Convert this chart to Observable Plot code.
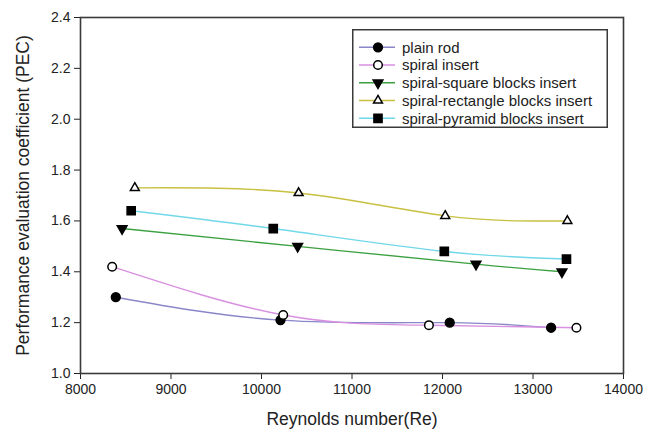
<!DOCTYPE html>
<html>
<head>
<meta charset="utf-8">
<script src="https://cdn.jsdelivr.net/npm/d3@7"></script>
<script src="https://cdn.jsdelivr.net/npm/@observablehq/plot@0.6"></script>
<style>
  html, body { margin: 0; padding: 0; background: white; }
  #wrap { position: relative; width: 656px; height: 432px; }
  #legend { position: absolute; left: 352px; top: 29px; }
  g[aria-label="x-axis label"] text, g[aria-label="y-axis label"] text { font-size: 17.5px; }
</style>
</head>
<body>
<div id="wrap"></div>
<script>
// ---- data ----
const seriesNames = ["plain rod", "spiral insert", "spiral-square blocks insert", "spiral-rectangle blocks insert", "spiral-pyramid blocks insert"];
const seriesColors = ["#8a86c8", "#d890e0", "#3aa040", "#c8c040", "#70d8e8"];

const plainRodRe = [8390, 10210, 12080, 13200];
const plainRodPEC = [1.30, 1.21, 1.20, 1.18];
const spiralRe = [8350, 10240, 11850, 13480];
const spiralPEC = [1.42, 1.23, 1.19, 1.18];
const squareRe = [8460, 10400, 12370, 13320];
const squarePEC = [1.57, 1.50, 1.43, 1.40];
const rectangleRe = [8600, 10410, 12030, 13380];
const rectanglePEC = [1.73, 1.71, 1.62, 1.60];
const pyramidRe = [8560, 10130, 12020, 13370];
const pyramidPEC = [1.64, 1.57, 1.48, 1.45];

const xTicks = [8000, 9000, 10000, 11000, 12000, 13000, 14000];
const yTicks = [1.0, 1.2, 1.4, 1.6, 1.8, 2.0, 2.2, 2.4];

// ---- build table ----
const reLists = [plainRodRe, spiralRe, squareRe, rectangleRe, pyramidRe];
const pecLists = [plainRodPEC, spiralPEC, squarePEC, rectanglePEC, pyramidPEC];
const rows = [];
seriesNames.forEach((s, i) => reLists[i].forEach((re, j) => rows.push({series: s, re, pec: pecLists[i][j]})));

const triangleDown = {
  draw(context, size) {
    const y = -Math.sqrt(size / (Math.sqrt(3) * 3));
    context.moveTo(0, -2 * y);
    context.lineTo(-Math.sqrt(3) * y, y);
    context.lineTo(Math.sqrt(3) * y, y);
    context.closePath();
  }
};
const symbols = [d3.symbolCircle, d3.symbolCircle, triangleDown, d3.symbolTriangle, d3.symbolSquare];
const fills = ["black", "white", "black", "white", "black"];
const radii = [4.4, 4.3, 3.6, 3.3, 4.6];

const dotMarks = seriesNames.map((s, i) => Plot.dot(rows.filter(d => d.series === s), {
  x: "re", y: "pec", symbol: symbols[i], fill: fills[i], stroke: "black", strokeWidth: 1.5, r: radii[i]
}));

const chart = Plot.plot({
  width: 656, height: 432,
  marginLeft: 80, marginRight: 33, marginTop: 17, marginBottom: 59,
  style: {fontFamily: "'Liberation Sans', Arial, sans-serif", fontSize: "14px", color: "#222", background: "white"},
  x: {domain: [8000, 14000]},
  y: {domain: [1.0, 2.4]},
  color: {domain: seriesNames, range: seriesColors},
  marks: [
    Plot.axisX({ticks: xTicks, tickFormat: d => String(d), tickSize: 6, tickPadding: 5, label: "Reynolds number(Re)", labelAnchor: "center", labelOffset: 51, labelArrow: "none"}),
    Plot.axisY({ticks: yTicks, tickFormat: d3.format(".1f"), tickSize: 6, tickPadding: 4, label: "Performance evaluation coefficient (PEC)", labelAnchor: "center", labelOffset: 64, labelArrow: "none"}),
    Plot.frame({stroke: "#3a3a3a", strokeWidth: 1.6}),
    Plot.line(rows, {x: "re", y: "pec", z: "series", stroke: "series", curve: "natural", strokeWidth: 1.4}),
    ...dotMarks
  ]
});

const wrap = document.getElementById("wrap");
wrap.appendChild(chart);

// ---- legend ----
const lw = 256, lh = 99;
const leg = d3.select(wrap).append("svg").attr("id", "legend").attr("width", lw).attr("height", lh)
  .style("font-family", "'Liberation Sans', Arial, sans-serif");
leg.append("rect").attr("x", 0.75).attr("y", 0.75).attr("width", lw - 1.5).attr("height", lh - 1.5)
  .attr("fill", "white").attr("stroke", "#3a3a3a").attr("stroke-width", 1.5);
seriesNames.forEach((s, i) => {
  const y = 18.3 + i * 17.75;
  const g = leg.append("g");
  g.append("line").attr("x1", 7).attr("x2", 43).attr("y1", y).attr("y2", y)
    .attr("stroke", seriesColors[i]).attr("stroke-width", 1.4);
  g.append("path").attr("d", d3.symbol(symbols[i], Math.PI * radii[i] * radii[i])())
    .attr("transform", `translate(26,${y})`).attr("fill", fills[i]).attr("stroke", "black").attr("stroke-width", 1.5);
  g.append("text").attr("x", 50).attr("y", y).attr("dy", "0.35em").attr("font-size", 15).attr("fill", "#222").text(s);
});
</script>
</body>
</html>
